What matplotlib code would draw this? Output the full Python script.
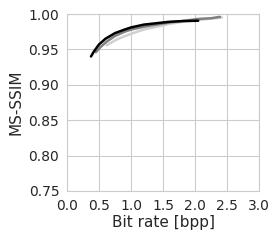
import matplotlib
matplotlib.use('Agg')
from matplotlib import pyplot as plt
import seaborn as sns

sns.set_style('whitegrid')

# curves (bit rate in bpp, MS-SSIM)
light_bpp = [0.62, 0.7, 0.8, 1.0, 1.2, 1.4, 1.6, 1.8, 2.0, 2.2, 2.42]
light_ssim = [0.956, 0.960, 0.965, 0.972, 0.978, 0.982, 0.986, 0.989, 0.991, 0.993, 0.995]

gray_bpp = [0.45, 0.52, 0.62, 0.75, 0.9, 1.0, 1.2, 1.4, 1.6, 1.8, 2.05, 2.25, 2.39]
gray_ssim = [0.946, 0.953, 0.961, 0.969, 0.975, 0.978, 0.982, 0.985, 0.988, 0.990, 0.993, 0.994, 0.996]

black_bpp = [0.375, 0.42, 0.5, 0.6, 0.75, 0.9, 1.0, 1.2, 1.4, 1.6, 1.8, 2.05]
black_ssim = [0.940, 0.947, 0.957, 0.965, 0.973, 0.978, 0.981, 0.985, 0.987, 0.989, 0.990, 0.9905]

fig = plt.figure(figsize=(2.78, 2.4), dpi=100)
ax = fig.add_axes([67/278, 1 - 191/240, 192/278, 177/240])

ax.plot(light_bpp, light_ssim, color='#d0d0d0', lw=1.8)
ax.plot(gray_bpp, gray_ssim, color='#808080', lw=1.8)
ax.plot(black_bpp, black_ssim, color='black', lw=1.8)

ax.set_xlim(0, 3)
ax.set_ylim(0.75, 1.0)
ax.set_xticks([0.0, 0.5, 1.0, 1.5, 2.0, 2.5, 3.0])
ax.set_yticks([0.75, 0.80, 0.85, 0.90, 0.95, 1.00])
ax.tick_params(labelsize=10, pad=2)
ax.set_xlabel('Bit rate [bpp]', fontsize=11, labelpad=2)
ax.set_ylabel('MS-SSIM', fontsize=11, labelpad=4)

fig.savefig('out.png', dpi=100)
